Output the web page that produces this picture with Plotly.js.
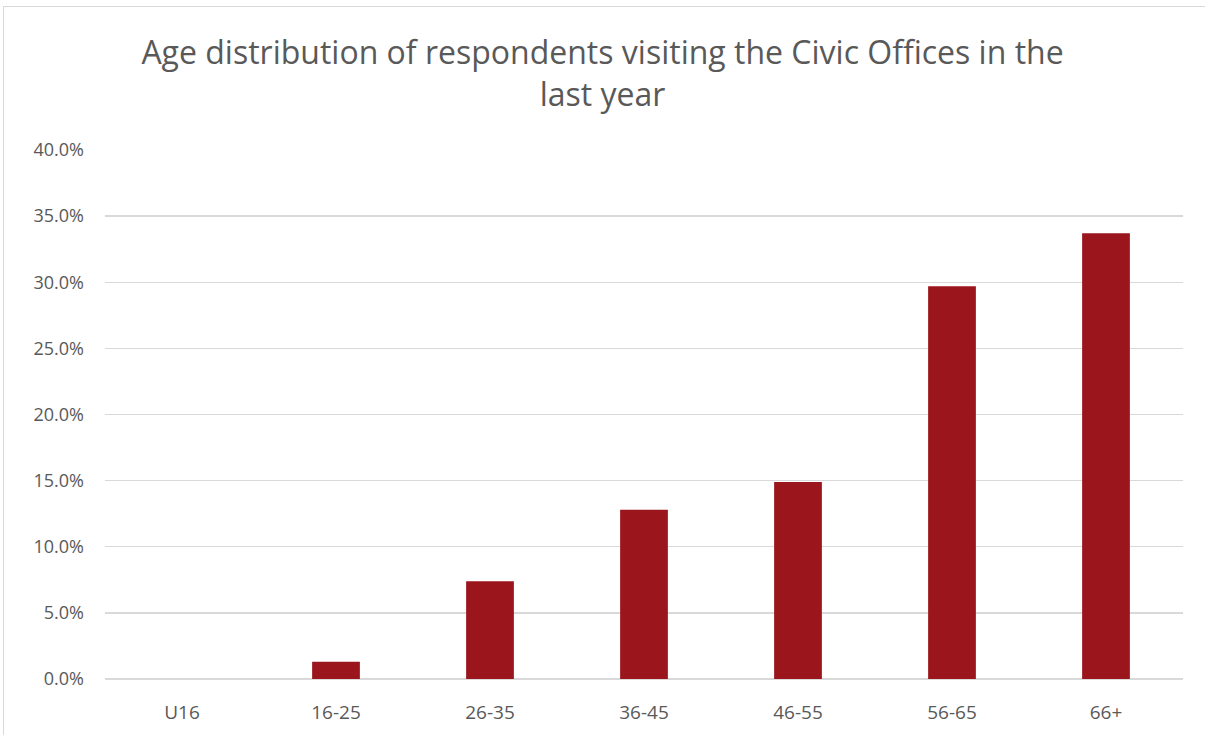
<!DOCTYPE html>
<html>
<head>
<meta charset="utf-8">
<script src="https://cdn.plot.ly/plotly-3.0.1.min.js"></script>
<style>
  html, body { margin: 0; padding: 0; background: #fff; }
  #wrap { position: relative; width: 1205px; height: 735px; overflow: hidden; }
  #chart { position: absolute; left: 0; top: 0; width: 1205px; height: 735px; }
  #frame { position: absolute; left: 3px; top: 6px; width: 1210px; height: 740px; border: 1px solid #d9d9d9; pointer-events: none; }
</style>
</head>
<body>
<div id="wrap">
  <div id="chart"></div>
  <div id="frame"></div>
</div>
<script>
const categories = ["U16", "16-25", "26-35", "36-45", "46-55", "56-65", "66+"];
const shares = [0.0, 0.013, 0.074, 0.128, 0.149, 0.297, 0.337];
const yTicks = [0, 0.05, 0.10, 0.15, 0.20, 0.25, 0.30, 0.35, 0.40];
const titleText = "Age distribution of respondents visiting the Civic Offices in the<br>last year";

const trace = {
  type: "bar",
  x: categories,
  y: shares,
  marker: { color: "#9a151c" },
  hoverinfo: "x+y"
};

const layout = {
  width: 1205,
  height: 735,
  paper_bgcolor: "rgba(0,0,0,0)",
  plot_bgcolor: "#ffffff",
  margin: { l: 105, r: 22, t: 150, b: 56 },
  bargap: 0.69,
  showlegend: false,
  title: {
    text: titleText,
    font: { family: "Open Sans, Liberation Sans, sans-serif", size: 32, color: "#595959", lineposition: "none" },
    x: 0.5,
    xanchor: "center",
    y: 0.913,
    yanchor: "middle"
  },
  font: { family: "Open Sans, Liberation Sans, sans-serif", color: "#595959", size: 18 },
  xaxis: {
    type: "category",
    showgrid: false,
    showline: false,
    zeroline: false,
    ticks: "",
    ticklabelstandoff: 20,
    tickfont: { size: 19, color: "#595959" }
  },
  yaxis: {
    range: [0, 0.40],
    tickvals: yTicks,
    tickformat: ".1%",
    showgrid: true,
    gridcolor: "#d9d9d9",
    gridwidth: 1.3,
    zeroline: true,
    zerolinecolor: "#d9d9d9",
    zerolinewidth: 1.3,
    showline: false,
    ticks: "",
    ticklabelstandoff: 20,
    tickfont: { size: 18, color: "#595959" }
  }
};

Plotly.newPlot("chart", [trace], layout, { displayModeBar: false, staticPlot: true });
</script>
</body>
</html>
